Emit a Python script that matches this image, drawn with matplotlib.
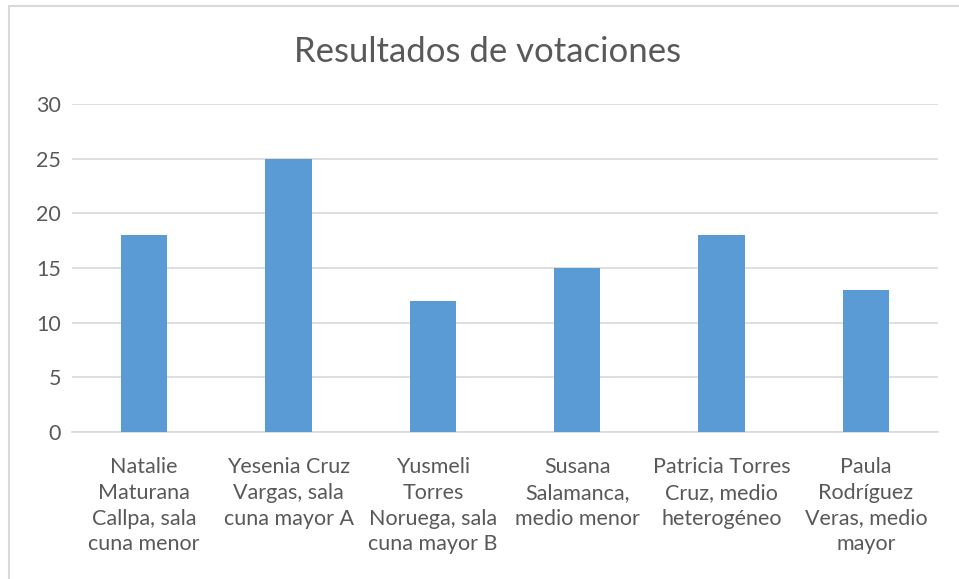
import matplotlib.pyplot as plt
from matplotlib.patches import Rectangle

# Data
categorias = ['Natalie\nMaturana\nCallpa, sala\ncuna menor',
              'Yesenia Cruz\nVargas, sala\ncuna mayor A',
              'Yusmeli\nTorres\nNoruega, sala\ncuna mayor B',
              'Susana\nSalamanca,\nmedio menor',
              'Patricia Torres\nCruz, medio\nheterogéneo',
              'Paula\nRodríguez\nVeras, medio\nmayor']
votos = [18, 25, 12, 15, 18, 13]
yticks = [0, 5, 10, 15, 20, 25, 30]

plt.rcParams['font.family'] = ['Lato', 'DejaVu Sans']
gris = '#595959'

fig = plt.figure(figsize=(9.59, 5.79), dpi=100)
ax = fig.add_axes([72/959, 1-432/579, (938-72)/959, (432-104)/579])

# chart border
fig.patches.append(Rectangle((8.5/959, -0.1), 1.2, 1 - 5.5/579 + 0.1, transform=fig.transFigure,
                             fill=False, edgecolor='#d9d9d9', linewidth=1.5))

x = range(len(votos))
ax.bar(x, votos, width=0.32, color='#5b9bd5', zorder=3)

ax.set_ylim(0, 30)
ax.set_xlim(-0.5, len(votos) - 0.5)
ax.set_yticks(yticks)
ax.set_xticks(list(x))
ax.set_xticklabels(categorias, linespacing=1.36)
ax.tick_params(axis='both', length=0, colors=gris, labelsize=15.5)
ax.tick_params(axis='y', pad=8)
ax.tick_params(axis='x', pad=18)
ax.yaxis.grid(True, color='#d9d9d9', linewidth=1.2, zorder=0)
for s in ['top', 'right', 'left']:
    ax.spines[s].set_visible(False)
ax.spines['bottom'].set_color('#d9d9d9')
ax.spines['bottom'].set_linewidth(1.2)

fig.text(488/959, 1-52/579, 'Resultados de votaciones', ha='center', va='center',
         fontsize=25, color=gris)

fig.savefig('out.png', dpi=100)
